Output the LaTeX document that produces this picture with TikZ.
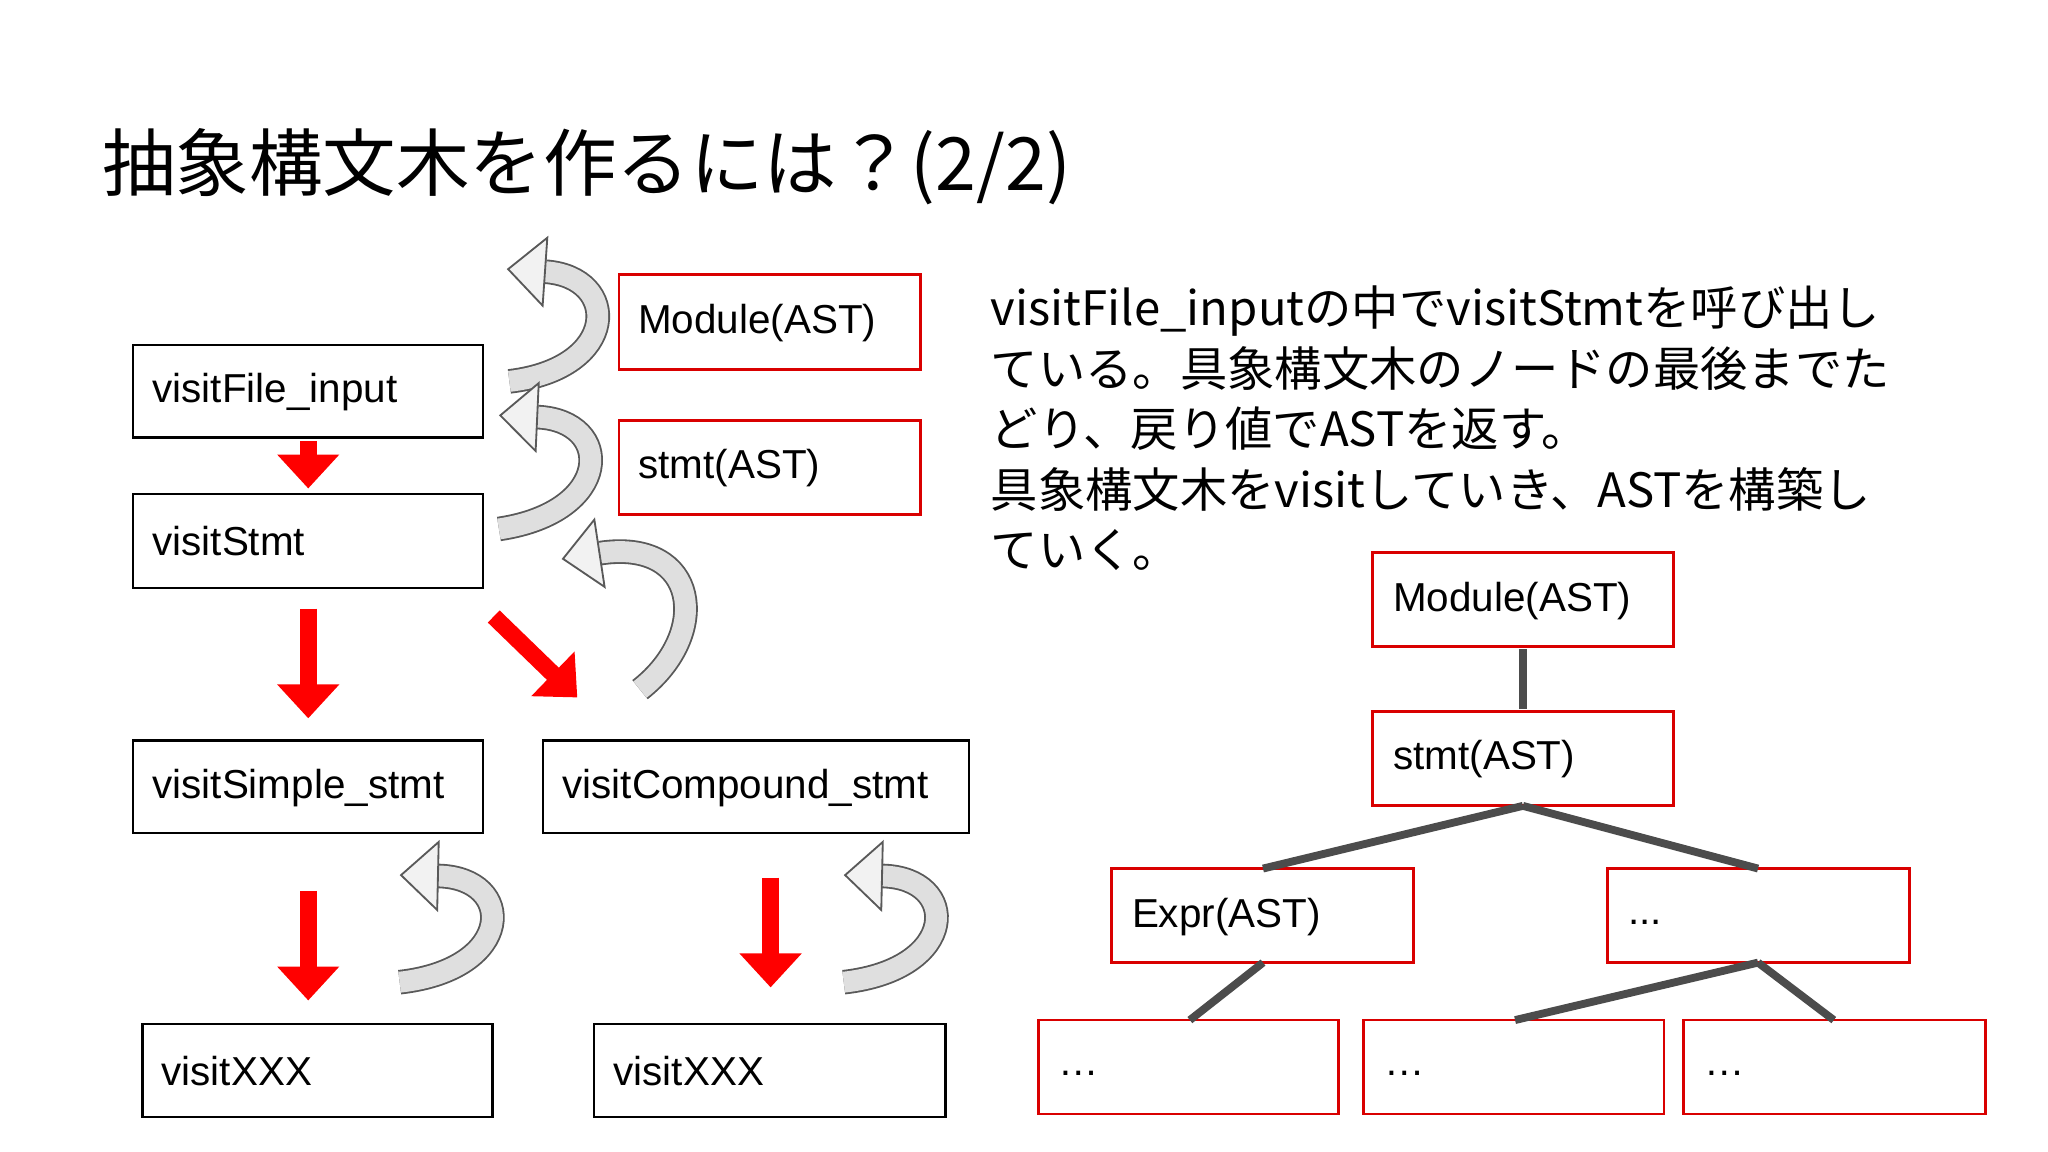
\documentclass[tikz,border=0pt]{standalone}
\usepackage{fontspec}
\setmainfont{Noto Sans CJK JP}
\newfontfamily\lat{Liberation Sans}
\usetikzlibrary{arrows.meta}
\begin{document}
\begin{tikzpicture}[x=0.01cm,y=-0.01cm,
 bbox/.style={draw=black,line width=0.5pt,inner sep=0pt},
 rbox/.style={draw=red!85!black,line width=0.6pt,inner sep=0pt},
 lbl/.style={anchor=west,inner sep=0pt,font=\lat\fontsize{8.8}{10}\selectfont},
 redarr/.style={draw=red,line width=1.3mm,-{Triangle[width=4.6mm,length=2.6mm]}},
 ret/.style={draw=gray!70!black,double=gray!25,double distance=1.6mm,line width=0.4pt,-{Triangle[open,fill=gray!10,width=5.5mm,length=3mm]}},
 tree/.style={draw=gray!60!black,line width=0.6mm}]
\useasboundingbox (0,0) rectangle (1568,882);
\fill[white] (0,0) rectangle (1568,882);
\node[anchor=west,font=\fontsize{16}{18}\selectfont] (title) at (66,128) {抽象構文木を作るには？(2/2)};
% left boxes
\draw[bbox] (102,264) rectangle (370,335);
\node[lbl] (tfi) at (116,300) {visitFile\_input};
\draw[bbox] (102,378) rectangle (370,450);
\node[lbl] (tst) at (116,414) {visitStmt};
\draw[bbox] (102,567) rectangle (370,638);
\node[lbl] (tsi) at (116,603) {visitSimple\_stmt};
\draw[bbox] (416,567) rectangle (742,638);
\node[lbl] (tco) at (430,603) {visitCompound\_stmt};
\draw[bbox] (109,784) rectangle (377,855);
\node[lbl] (tx1) at (123,820) {visitXXX};
\draw[bbox] (455,784) rectangle (724,855);
\node[lbl] (tx2) at (469,820) {visitXXX};
\draw[rbox] (474,210) rectangle (705,283);
\node[lbl] (tm1) at (488,247) {Module(AST)};
\draw[rbox] (474,322) rectangle (705,394);
\node[lbl] (ts1) at (488,358) {stmt(AST)};
% red arrows
\coordinate (r1a) at (236,338); \coordinate (r1b) at (236,374);
\coordinate (r2a) at (236,466); \coordinate (r2b) at (236,550);
\coordinate (r3a) at (378,472); \coordinate (r3b) at (442,534);
\coordinate (r4a) at (236,682); \coordinate (r4b) at (236,766);
\coordinate (r5a) at (590,672); \coordinate (r5b) at (590,756);
\draw[redarr] (r1a) -- (r1b);
\draw[redarr] (r2a) -- (r2b);
\draw[redarr] (r3a) -- (r3b);
\draw[redarr] (r4a) -- (r4b);
\draw[redarr] (r5a) -- (r5b);
% return arrows
\draw[ret] (390,292) .. controls (475,282) and (475,212) .. (388,206);
\draw[ret] (382,405) .. controls (470,392) and (470,322) .. (382,318);
\draw[ret] (490,528) .. controls (545,485) and (535,412) .. (430,428);
\draw[ret] (306,752) .. controls (395,742) and (395,672) .. (306,670);
\draw[ret] (646,752) .. controls (735,742) and (735,672) .. (646,670);
% right text
\node[anchor=north west,align=left,font=\fontsize{10.3}{13.2}\selectfont,inner sep=0pt] (para) at (758,218)
 {visitFile\_inputの中でvisitStmtを呼び出し\\ている。具象構文木のノードの最後までた\\どり、戻り値でASTを返す。\\具象構文木をvisitしていき、ASTを構築し\\ていく。};
% tree
\draw[rbox] (1051,423) rectangle (1281,495);
\node[lbl] (m2) at (1066,460) {Module(AST)};
\draw[rbox] (1051,545) rectangle (1281,617);
\node[lbl] (s2) at (1066,581) {stmt(AST)};
\draw[rbox] (851,665) rectangle (1082,737);
\node[lbl] (e2) at (866,702) {Expr(AST)};
\draw[rbox] (1231,665) rectangle (1462,737);
\node[lbl] (d1) at (1246,706) {...};
\draw[rbox] (795,781) rectangle (1025,853);
\node[lbl] (d2) at (810,822) {…};
\draw[rbox] (1044,781) rectangle (1274,853);
\node[lbl] (d3) at (1059,822) {…};
\draw[rbox] (1289,781) rectangle (1520,853);
\node[lbl] (d4) at (1304,822) {…};
\draw[tree] (1166,497) -- (1166,543);
\draw[tree] (1166,617) -- (967,665);
\draw[tree] (1166,617) -- (1346,665);
\draw[tree] (967,737) -- (911,781);
\draw[tree] (1346,737) -- (1160,781);
\draw[tree] (1346,737) -- (1404,781);
\end{tikzpicture}
\end{document}
